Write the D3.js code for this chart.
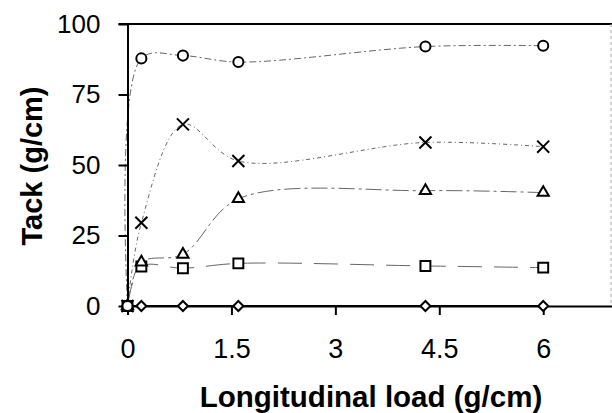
<!DOCTYPE html>
<html>
<head>
<meta charset="utf-8">
<script src="https://cdn.jsdelivr.net/npm/d3@7"></script>
<style>
  body { margin: 0; background: #fff; }
  text { font-family: "Liberation Sans", Arial, sans-serif; fill: #000; }
</style>
</head>
<body>
<div id="chart"></div>
<script>
// ---------- data
const loads     = [0, 0.2, 0.8, 1.6, 4.3, 6]
const circles   = [0, 87.8, 88.8, 86.5, 92.0, 92.3]
const crosses   = [0, 29.5, 64.4, 51.4, 58.0, 56.5]
const triangles = [0, 15.5, 18.3, 38.0, 40.9, 40.2]
const squares   = [0, 14.0, 13.4, 15.1, 14.2, 13.6]
const diamonds  = [0, 0, 0, 0, 0, 0]
const xTicks = [0, 1.5, 3, 4.5, 6]
const yTicks = [0, 25, 50, 75, 100]

// ---------- dimensions
const width = 612, height = 413
const plot = { left: 127.5, right: 612.5, top: 24, bottom: 306 }

const svg = d3.select("#chart").append("svg")
    .attr("width", width)
    .attr("height", height)

const xScale = d3.scaleLinear().domain([0, 7]).range([plot.left, plot.right])
const yScale = d3.scaleLinear().domain([0, 100]).range([plot.bottom, plot.top])

// ---------- frame (top + right)
svg.append("line")
    .attr("x1", plot.left - 9).attr("x2", width)
    .attr("y1", plot.top).attr("y2", plot.top)
    .attr("stroke", "#000").attr("stroke-width", 2)
svg.append("line")
    .attr("x1", 611).attr("x2", 611)
    .attr("y1", plot.top).attr("y2", plot.bottom)
    .attr("stroke", "#aaa").attr("stroke-width", 1)
    .attr("stroke-dasharray", "3,3")

// ---------- series
const series = [
  { name: "circle",   values: circles,   symbol: d3.symbolCircle, size: 80, dash: "7,3,2,3" },
  { name: "cross",    values: crosses,   symbol: d3.symbolTimes || d3.symbolX, size: 96, dash: "4,3,1,3" },
  { name: "triangle", values: triangles, symbol: d3.symbolTriangle2, size: 90, dash: "16,4,3,4" },
  { name: "square",   values: squares,   symbol: d3.symbolSquare2, size: 125, dash: "24,12" },
  { name: "diamond",  values: diamonds,  symbol: d3.symbolDiamond2, size: 64, dash: null }
]

// centripetal smoothing keeps the overshoot close to the original's
const lineGenerator = d3.line()
    .x(d => xScale(d[0]))
    .y(d => yScale(d[1]))
    .curve(d3.curveCatmullRom.alpha(0.5))

const lineGroup = svg.append("g")
series.forEach(s => {
  const pts = loads.map((x, i) => [x, s.values[i]])
  lineGroup.append("path")
      .attr("d", lineGenerator(pts))
      .attr("fill", "none")
      .attr("stroke", s.dash ? "#666" : "#000")
      .attr("stroke-width", s.dash ? 1 : 2)
      .attr("stroke-dasharray", s.dash)
})

// ---------- axes
const yAxis = svg.append("g")
    .attr("transform", `translate(${plot.left},0)`)
    .call(d3.axisLeft(yScale).tickValues(yTicks).tickSize(9).tickSizeOuter(0).tickPadding(18))
yAxis.select(".domain").attr("stroke-width", 2)
yAxis.selectAll(".tick line").attr("stroke-width", 2)
yAxis.selectAll("text").style("font-size", "26px")

const xAxis = svg.append("g")
    .attr("transform", `translate(0,${plot.bottom})`)
    .call(d3.axisBottom(xScale).tickValues(xTicks).tickFormat(d => String(d))
      .tickSize(9).tickSizeOuter(0).tickPadding(24))
xAxis.select(".domain").attr("stroke-width", 2)
xAxis.selectAll(".tick line").attr("stroke-width", 2)
xAxis.selectAll("text").style("font-size", "27px")

// ---------- markers
const markerGroup = svg.append("g")
series.slice().reverse().forEach(s => {
  markerGroup.selectAll(null)
    .data(loads.map((x, i) => [x, s.values[i]]))
    .join("path")
      .attr("transform", d => `translate(${xScale(d[0])},${yScale(d[1])})`)
      .attr("d", d3.symbol().type(s.symbol).size(s.size))
      .attr("fill", "#fff")
      .attr("stroke", "#000")
      .attr("stroke-width", 2)
})

// ---------- titles
svg.append("text")
    .attr("x", 371).attr("y", 407)
    .attr("text-anchor", "middle")
    .style("font-size", "29.5px").style("font-weight", "bold")
    .text("Longitudinal load (g/cm)")

svg.append("text")
    .attr("transform", "translate(42,166) rotate(-90)")
    .attr("text-anchor", "middle")
    .style("font-size", "29px").style("font-weight", "bold")
    .text("Tack (g/cm)")
</script>
</body>
</html>
